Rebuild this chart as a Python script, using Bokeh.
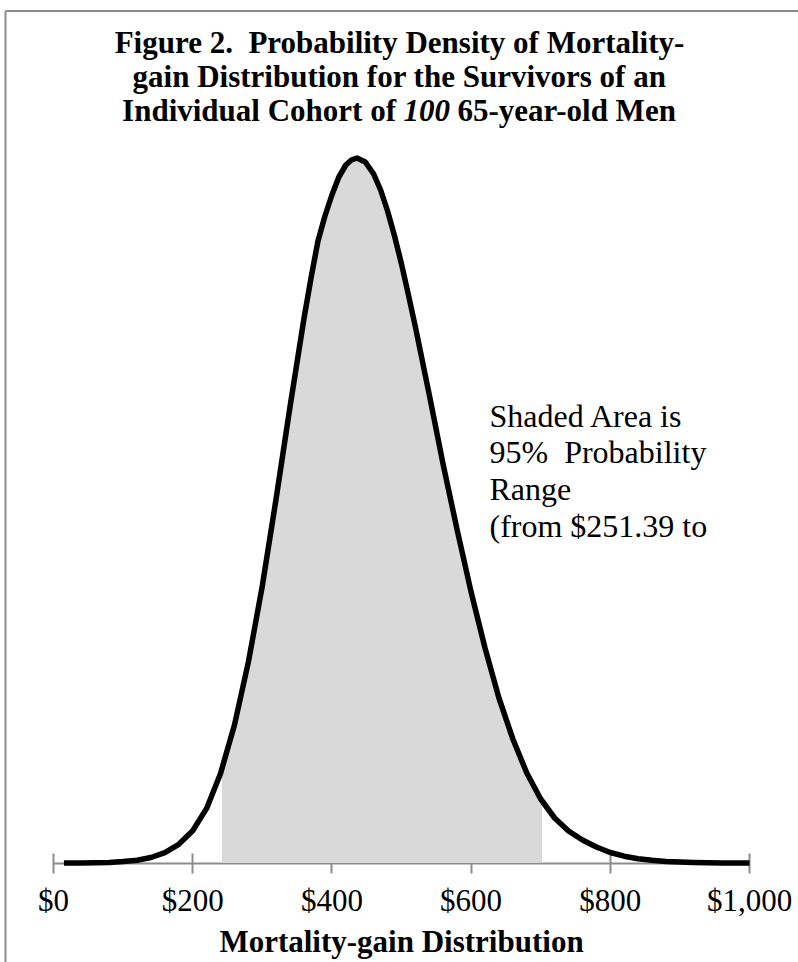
from bokeh.plotting import figure
from bokeh.models import Range1d, LinearAxis, FixedTicker, Label
from bokeh.embed import file_html
from bokeh.resources import INLINE
import numpy as np

# ---- data ----
GAIN = [15, 40, 60, 80, 100, 120, 140, 160, 180, 200, 220, 240, 260, 280, 300,
        320, 340, 360, 370, 380, 390, 400, 410, 420, 428, 436, 448, 460, 470,
        480, 490, 500, 510, 520, 540, 560, 580, 600, 620, 640, 660, 680, 700,
        720, 740, 760, 780, 800, 820, 840, 860, 880, 900, 920, 940, 960, 980, 1000]
DENSITY = [0.0, 0.1, 0.3, 0.6, 1.4, 2.8, 5.5, 10.4, 18.7, 32.2, 54.6, 89.6, 138, 201, 277,
           365, 457, 545, 585, 622, 647, 668, 686, 698, 703, 705, 701, 689, 673,
           652, 627, 599, 568, 536, 468, 398, 333, 271, 215, 165, 124, 90, 64,
           45, 32, 23, 16, 10.5, 6.8, 4.3, 2.7, 1.6, 0.9, 0.5, 0.3, 0.1, 0.1, 0.0]
SHADE_RANGE = [242, 702]
TICKS = [0, 200, 400, 600, 800, 1000]
TICK_LABELS = ["$0", "$200", "$400", "$600", "$800", "$1,000"]
TITLE_LINES = ["Figure 2.\u00a0 Probability Density of Mortality-",
               "gain Distribution for the Survivors of an"]
TITLE_LINE3 = ["Individual Cohort of", "100", "65-year-old Men"]
NOTE_LINES = ["Shaded Area is", "95%\u00a0 Probability", "Range", "(from $251.39 to"]
X_TITLE = "Mortality-gain Distribution"

# ---- layout helpers (page pixel -> data); the canvas starts at the page corner ----
W, H = 798, 962
PPD = 0.696
X_START = -53 / PPD
X_END = X_START + W / PPD
Y_END = 862.5
Y_START = Y_END - H


def dx(px):
    return X_START + px / PPD


def dy(py):
    return Y_END - py


FONT = "Liberation Serif"
GRAY = "#8c8c8c"

p = figure(width=W, height=H, output_backend="svg", toolbar_location=None,
           x_range=Range1d(X_START, X_END), y_range=Range1d(Y_START, Y_END),
           x_axis_location=None, y_axis_location=None,
           min_border=0, min_border_left=0, min_border_right=0,
           min_border_top=0, min_border_bottom=0)
p.outline_line_color = None
p.xgrid.visible = False
p.ygrid.visible = False
p.background_fill_color = "white"
p.border_fill_color = "white"

xaxis = LinearAxis(fixed_location=0, bounds=(0, 1000),
                   ticker=FixedTicker(ticks=TICKS),
                   major_label_overrides={t: s for t, s in zip(TICKS, TICK_LABELS)})
xaxis.axis_line_color = GRAY
xaxis.axis_line_width = 2
xaxis.major_tick_line_color = GRAY
xaxis.major_tick_line_width = 2
xaxis.major_tick_in = 10
xaxis.major_tick_out = 10
xaxis.minor_tick_line_color = None
xaxis.major_label_text_font = FONT
xaxis.major_label_text_font_size = "31px"
xaxis.major_label_text_color = "black"
xaxis.major_label_standoff = 10
p.add_layout(xaxis, "below")

# chart border (top and left edges are visible in the reference crop)
p.multi_line(xs=[[dx(5), dx(W + 5)], [dx(5), dx(5)]],
             ys=[[dy(10.5), dy(10.5)], [dy(10.5), dy(H + 5)]],
             line_color=GRAY, line_width=2)

# shaded 95% range under the curve
gx = np.array(GAIN, dtype=float)
gy = np.array(DENSITY, dtype=float)
lo, hi = SHADE_RANGE
inner = (gx > lo) & (gx < hi)
sx = np.concatenate([[lo], gx[inner], [hi]])
sy = np.concatenate([[np.interp(lo, gx, gy)], gy[inner], [np.interp(hi, gx, gy)]])
p.varea(x=sx, y1=0, y2=sy, fill_color="#d9d9d9", level="overlay")

p.line(GAIN, DENSITY, line_color="black", line_width=5.5, line_join="round",
       level="overlay")

# title
for i, txt in enumerate(TITLE_LINES):
    p.add_layout(Label(x=dx(399), y=dy(42 + 34 * i), text=txt, text_align="center",
                       text_baseline="alphabetic", text_font=FONT, text_font_size="31px",
                       text_font_style="bold", text_color="black"))
x100 = 403
y3 = dy(110)
p.add_layout(Label(x=dx(x100 - 7.5), y=y3, text=TITLE_LINE3[0], text_align="right",
                   text_baseline="alphabetic", text_font=FONT, text_font_size="31px",
                   text_font_style="bold", text_color="black"))
p.add_layout(Label(x=dx(x100), y=y3, text=TITLE_LINE3[1], text_align="left",
                   text_baseline="alphabetic", text_font=FONT, text_font_size="31px",
                   text_font_style="bold italic", text_color="black"))
p.add_layout(Label(x=dx(x100 + 46.5 + 7.5), y=y3, text=TITLE_LINE3[2], text_align="left",
                   text_baseline="alphabetic", text_font=FONT, text_font_size="31px",
                   text_font_style="bold", text_color="black"))

# annotation
for i, txt in enumerate(NOTE_LINES):
    p.add_layout(Label(x=dx(489), y=dy(415 + 36.7 * i), text=txt, text_align="left",
                       text_baseline="alphabetic", text_font=FONT, text_font_size="32px",
                       text_color="black"))

# x-axis title
p.add_layout(Label(x=dx(401), y=dy(941), text=X_TITLE, text_align="center",
                   text_baseline="alphabetic", text_font=FONT, text_font_size="31px",
                   text_font_style="bold", text_color="black"))

open("out.html", "w").write(file_html(p, INLINE))
